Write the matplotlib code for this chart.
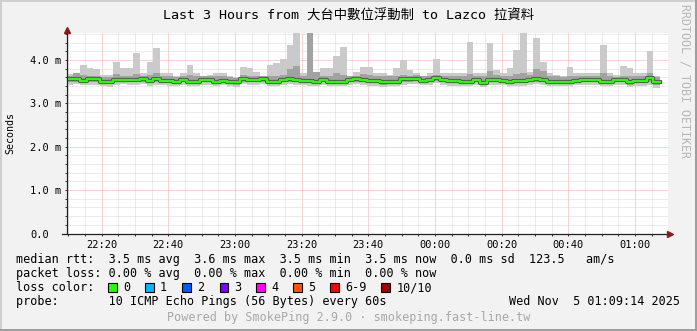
import numpy as np
import matplotlib
matplotlib.use("Agg")
import matplotlib.pyplot as plt
from matplotlib.patches import Rectangle

# Data #######################################################################

t_first = 9.5   # minutes after 22:00 of the first sample
t_step = 2.0    # minutes per sample

# round trip times in ms, one value per sample
rtt_max = [3.68, 3.70, 3.89, 3.82, 3.78, 3.66, 3.66, 3.96, 3.82, 3.82,
           4.17, 3.69, 3.96, 4.27, 3.69, 3.69, 3.62, 3.70, 3.89, 3.69,
           3.62, 3.66, 3.69, 3.69, 3.62, 3.60, 3.84, 3.82, 3.73, 3.62,
           3.88, 3.92, 4.03, 4.34, 4.61, 3.69, 4.61, 3.69, 3.82, 3.82,
           4.08, 4.30, 3.62, 3.73, 3.84, 3.84, 3.69, 3.69, 3.66, 3.82,
           4.00, 3.77, 3.69, 3.62, 3.70, 4.03, 3.69, 3.69, 3.69, 3.69,
           4.41, 3.69, 3.69, 4.38, 3.77, 3.69, 3.82, 4.22, 4.61, 3.73,
           4.51, 3.96, 3.69, 3.66, 3.62, 3.84, 3.69, 3.69, 3.69, 3.69,
           4.34, 3.69, 3.66, 3.85, 3.82, 3.69, 3.69, 4.20, 3.62]
rtt_hi = [3.64, 3.70, 3.66, 3.64, 3.64, 3.60, 3.60, 3.68, 3.64, 3.64,
          3.68, 3.64, 3.66, 3.70, 3.63, 3.63, 3.60, 3.64, 3.66, 3.62,
          3.62, 3.62, 3.62, 3.63, 3.60, 3.58, 3.66, 3.64, 3.64, 3.62,
          3.62, 3.64, 3.66, 3.80, 3.85, 3.64, 4.61, 3.72, 3.64, 3.63,
          3.70, 3.66, 3.62, 3.64, 3.68, 3.66, 3.62, 3.62, 3.62, 3.64,
          3.66, 3.64, 3.66, 3.62, 3.62, 3.66, 3.62, 3.64, 3.62, 3.62,
          3.68, 3.64, 3.62, 3.75, 3.66, 3.64, 3.64, 3.68, 3.70, 3.66,
          3.80, 3.75, 3.64, 3.62, 3.60, 3.62, 3.62, 3.62, 3.62, 3.62,
          3.70, 3.62, 3.60, 3.64, 3.64, 3.62, 3.64, 3.70, 3.60]
rtt_med = [3.55, 3.56, 3.52, 3.55, 3.55, 3.48, 3.48, 3.54, 3.54, 3.54,
           3.54, 3.56, 3.52, 3.55, 3.52, 3.52, 3.50, 3.54, 3.48, 3.50,
           3.54, 3.54, 3.50, 3.52, 3.50, 3.48, 3.56, 3.54, 3.54, 3.56,
           3.50, 3.50, 3.54, 3.56, 3.54, 3.52, 3.52, 3.50, 3.54, 3.48,
           3.50, 3.48, 3.54, 3.56, 3.54, 3.52, 3.52, 3.48, 3.50, 3.50,
           3.55, 3.55, 3.57, 3.52, 3.54, 3.58, 3.54, 3.52, 3.52, 3.50,
           3.50, 3.54, 3.46, 3.54, 3.54, 3.52, 3.50, 3.52, 3.52, 3.54,
           3.55, 3.54, 3.50, 3.50, 3.50, 3.50, 3.52, 3.54, 3.54, 3.54,
           3.50, 3.50, 3.54, 3.54, 3.48, 3.52, 3.52, 3.58, 3.50]
rtt_lo = [3.49, 3.50, 3.47, 3.49, 3.48, 3.44, 3.44, 3.48, 3.49, 3.48,
          3.48, 3.50, 3.47, 3.49, 3.47, 3.46, 3.45, 3.48, 3.44, 3.45,
          3.48, 3.49, 3.45, 3.47, 3.45, 3.43, 3.50, 3.49, 3.48, 3.50,
          3.45, 3.45, 3.48, 3.50, 3.49, 3.47, 3.46, 3.45, 3.48, 3.44,
          3.45, 3.44, 3.48, 3.50, 3.48, 3.47, 3.46, 3.43, 3.45, 3.45,
          3.49, 3.50, 3.51, 3.47, 3.48, 3.52, 3.49, 3.46, 3.47, 3.45,
          3.45, 3.48, 3.42, 3.48, 3.49, 3.47, 3.45, 3.47, 3.46, 3.49,
          3.49, 3.48, 3.45, 3.45, 3.44, 3.45, 3.47, 3.48, 3.49, 3.48,
          3.45, 3.45, 3.49, 3.48, 3.43, 3.46, 3.46, 3.48, 3.42]
rtt_min = [3.43, 3.44, 3.42, 3.43, 3.42, 3.39, 3.38, 3.43, 3.44, 3.42,
           3.43, 3.44, 3.41, 3.43, 3.42, 3.41, 3.40, 3.43, 3.39, 3.40,
           3.43, 3.43, 3.40, 3.42, 3.40, 3.38, 3.44, 3.43, 3.42, 3.44,
           3.40, 3.40, 3.43, 3.44, 3.43, 3.42, 3.41, 3.40, 3.43, 3.39,
           3.40, 3.39, 3.43, 3.44, 3.43, 3.41, 3.41, 3.38, 3.40, 3.40,
           3.43, 3.44, 3.45, 3.42, 3.43, 3.46, 3.43, 3.41, 3.41, 3.40,
           3.40, 3.43, 3.38, 3.43, 3.43, 3.42, 3.40, 3.41, 3.41, 3.43,
           3.44, 3.43, 3.40, 3.40, 3.39, 3.40, 3.42, 3.43, 3.43, 3.43,
           3.40, 3.40, 3.43, 3.43, 3.38, 3.41, 3.40, 3.42, 3.36]

y_ticks = [0, 1, 2, 3, 4]
y_labels = ["0.0", "1.0 m", "2.0 m", "3.0 m", "4.0 m"]
x_ticks = [20, 40, 60, 80, 100, 120, 140, 160, 180]
x_labels = ["22:20", "22:40", "23:00", "23:20", "23:40",
            "00:00", "00:20", "00:40", "01:00"]

title = "Last 3 Hours from 大台中數位浮動制 to Lazco 拉資料"
legend_rows = [
    "median rtt:  3.5 ms avg  3.6 ms max  3.5 ms min  3.5 ms now  0.0 ms sd  123.5   am/s",
    "packet loss: 0.00 % avg  0.00 % max  0.00 % min  0.00 % now",
    "loss color:",
    "probe:       10 ICMP Echo Pings (56 Bytes) every 60s",
]
stamp = "Wed Nov  5 01:09:14 2025"
footer = "Powered by SmokePing 2.9.0 · smokeping.fast-line.tw"

loss_names = ["0", "1", "2", "3", "4", "5", "6-9", "10/10"]
loss_colors = ["#26ff00", "#00b8ff", "#0059ff", "#7e00ff",
               "#ff00ff", "#ff5500", "#ff0000", "#a10000"]

# Figure #####################################################################

W, H = 697, 331
MONO = "DejaVu Sans Mono"

def fx(x):
    return x / W

def fy(y):
    return 1 - y / H

fig = plt.figure(figsize=(W / 100, H / 100), dpi=100, facecolor="#f2f2f2")
ax = fig.add_axes([fx(67), fy(233.5), 601 / W, 200.5 / H])
ax.set_facecolor("white")

# smoke + median
t = t_first + t_step * np.arange(len(rtt_med))
te = np.append(t, t[-1] + t_step)
ext = lambda a: np.append(a, a[-1])
ax.fill_between(te, ext(rtt_min), ext(rtt_max), step="post", color="#cacaca", lw=0)
ax.fill_between(te, ext(rtt_lo), ext(rtt_hi), step="post", color="#a2a2a2", lw=0)
ax.step(te, ext(rtt_med), where="post", color="#505050", lw=3.0)
ax.step(te, ext(rtt_med), where="post", color="#26ff00", lw=1.7)

ax.set_xlim(9.6, 189.9)
ax.set_ylim(0, 4.62)

ax.set_xticks(x_ticks)
ax.set_xticklabels(x_labels)
ax.set_xticks(np.arange(10, 190, 5), minor=True)
ax.set_yticks(y_ticks)
ax.set_yticklabels(y_labels)
ax.set_yticks(np.arange(0, 4.61, 0.2), minor=True)

ax.set_axisbelow(True)
ax.grid(which="minor", color="#d9d9d9", linestyle=(0, (1, 1)), linewidth=0.72)
ax.grid(which="major", color="#eeaaaa", linestyle=(0, (1, 1)), linewidth=0.72)

for s in ax.spines.values():
    s.set_visible(False)
ax.tick_params(which="both", length=1.5, width=0.7, color="#303030")
ax.tick_params(axis="x", pad=3, labelsize=7.5)
ax.tick_params(axis="y", pad=25.1, labelsize=7.5)
for lab in ax.get_xticklabels() + ax.get_yticklabels():
    lab.set_family(MONO)
for lab in ax.get_yticklabels():
    lab.set_ha("left")

# axes with arrows
ax.plot([0, 0], [0, 1.02], transform=ax.transAxes, color="#202020", lw=0.9, clip_on=False)
ax.plot([-0.008, 1.0], [0, 0], transform=ax.transAxes, color="#202020", lw=0.9, clip_on=False)
ax.plot([0], [1.014], marker="^", ms=5, color="#8b1a1a", transform=ax.transAxes, clip_on=False)
ax.plot([1.0025], [0], marker=">", ms=5, color="#8b1a1a", transform=ax.transAxes, clip_on=False)

ax.set_ylabel("Seconds", family=MONO, fontsize=7.2)
ax.yaxis.set_label_coords((15.5 - 67) / 601, 0.5)

# texts
fig.text(fx(348.5), fy(19.3), title, ha="center", va="baseline", fontsize=9.6,
         family=[MONO, "Noto Sans CJK TC"])
fig.text(fx(685), fy(81), "RRDTOOL / TOBI OETIKER", rotation=270, ha="center",
         va="center", fontsize=8.4, family=MONO, color="#b8b8b8")

base = [263.5, 277.3, 291.1, 304.9]
for row, yb in zip(legend_rows, base):
    fig.text(fx(15.6), fy(yb), row, ha="left", va="baseline", fontsize=8.5, family=MONO)
fig.text(fx(680), fy(base[3]), stamp, ha="right", va="baseline", fontsize=8.5, family=MONO)

box_x = [108, 145, 182.2, 219.6, 256.4, 293.3, 330.2, 381.3]
for bx, name, col in zip(box_x, loss_names, loss_colors):
    fig.add_artist(Rectangle((fx(bx), fy(291.7)), 8.5 / W, 9 / H, transform=fig.transFigure,
                             facecolor=col, edgecolor="black", lw=0.8))
    fig.text(fx(bx + 15), fy(base[2]), name, ha="left", va="baseline", fontsize=8.5, family=MONO)

fig.text(fx(348.5), fy(321), footer, ha="center", va="baseline", fontsize=8.5,
         family=MONO, color="#a8a8a8")

# 3d frame
fig.add_artist(Rectangle((0, 0), 2 / W, 1, transform=fig.transFigure, color="#cfcfcf", lw=0))
fig.add_artist(Rectangle((0, fy(2)), 1, 2 / H, transform=fig.transFigure, color="#cfcfcf", lw=0))
fig.add_artist(Rectangle((fx(695), 0), 2 / W, 1, transform=fig.transFigure, color="#9e9e9e", lw=0))
fig.add_artist(Rectangle((0, 0), 1, 2 / H, transform=fig.transFigure, color="#9e9e9e", lw=0))

fig.savefig("out.png", dpi=100, facecolor=fig.get_facecolor())
